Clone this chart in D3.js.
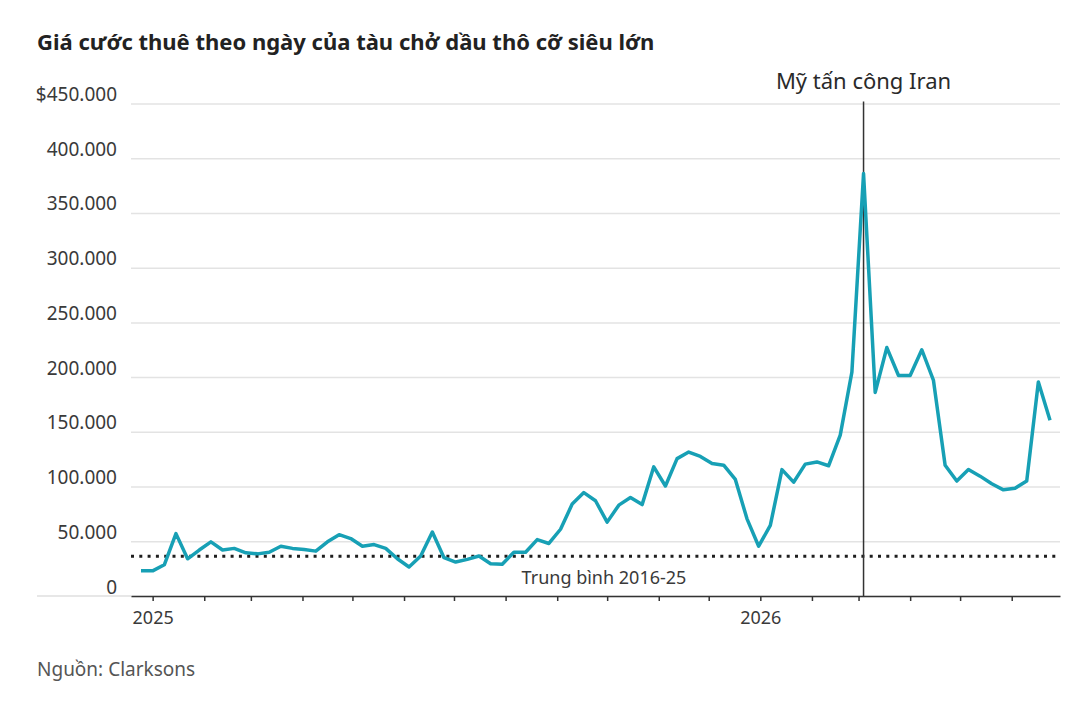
<!DOCTYPE html>
<html>
<head>
<meta charset="utf-8">
<script src="https://cdn.jsdelivr.net/npm/d3@7"></script>
<style>
  body { margin: 0; background: #fff; }
  svg { font-family: "Noto Sans", sans-serif; display: block; }
</style>
</head>
<body>
<div id="chart"></div>
<script>

// weekly dates (one point per week)
var dates = ["2024-12-25",
  "2025-01-01","2025-01-08","2025-01-15","2025-01-22","2025-01-29",
  "2025-02-05","2025-02-12","2025-02-19","2025-02-26",
  "2025-03-05","2025-03-12","2025-03-19","2025-03-26",
  "2025-04-02","2025-04-09","2025-04-16","2025-04-23","2025-04-30",
  "2025-05-07","2025-05-14","2025-05-21","2025-05-28",
  "2025-06-04","2025-06-11","2025-06-18","2025-06-25",
  "2025-07-02","2025-07-09","2025-07-16","2025-07-23","2025-07-30",
  "2025-08-06","2025-08-13","2025-08-20","2025-08-27",
  "2025-09-03","2025-09-10","2025-09-17","2025-09-24",
  "2025-10-01","2025-10-08","2025-10-15","2025-10-22","2025-10-29",
  "2025-11-05","2025-11-12","2025-11-19","2025-11-26",
  "2025-12-03","2025-12-10","2025-12-17","2025-12-24","2025-12-31",
  "2026-01-07","2026-01-14","2026-01-21","2026-01-28",
  "2026-02-04","2026-02-11","2026-02-18","2026-02-25",
  "2026-03-04","2026-03-11","2026-03-18","2026-03-25",
  "2026-04-01","2026-04-08","2026-04-15","2026-04-22","2026-04-29",
  "2026-05-06","2026-05-13","2026-05-20","2026-05-27",
  "2026-06-03","2026-06-10","2026-06-17","2026-06-24"];

// daily rate, USD
var rates = [23000,
  23000, 28500, 57000, 34000, 42000,
  49500, 42000, 43500, 39500,
  38500, 40000, 45500, 43500,
  42500, 41000, 49500, 56000, 52500,
  45500, 47000, 43500, 34000,
  26500, 36500, 58500, 35000,
  31000, 33500, 36500, 29500, 29000,
  40000, 40000, 51500, 48000,
  61000, 84000, 94500, 87000,
  67500, 83000, 90000, 83500, 118000,
  100500, 125500, 131500, 127500,
  121000, 119500, 106500, 70500, 45500,
  64500, 115500, 104000, 120500,
  122500, 119000, 147000, 204500,
  386000, 186000, 227000, 201500,
  201500, 225000, 197000, 119500, 105000,
  115500, 109500, 102500, 97000,
  98500, 105000, 195500, 160500];

var yTicks = [0, 50000, 100000, 150000, 200000, 250000, 300000, 350000, 400000, 450000];
var average = 36300;            // 2016-25 average
var averageLabel = "Trung bình 2016-25";
var eventDate = "2026-03-04";
var eventLabel = "Mỹ tấn công Iran";
var xDomain = ["2024-12-19", "2026-06-30"];

var W = 1074, H = 702;
var plotLeft = 131, plotRight = 1060, plotTop = 103.5, plotBottom = 596;
var font = "'Noto Sans', sans-serif";

var parse = d3.utcParse("%Y-%m-%d");
var data = dates.map(function(d, i) { return { date: parse(d), value: rates[i] }; });

var locale = d3.formatLocale({ decimal: ",", thousands: ".", grouping: [3], currency: ["$", ""] });
var fmt = locale.format(",");

var svg = d3.select("#chart").append("svg")
    .attr("width", W)
    .attr("height", H);

// title
svg.append("text")
    .attr("x", 37)
    .attr("y", 50)
    .attr("font-size", 22)
    .attr("font-weight", "bold")
    .attr("fill", "#222")
    .text("Giá cước thuê theo ngày của tàu chở dầu thô cỡ siêu lớn");

var x = d3.scaleUtc()
    .domain(xDomain.map(parse))
    .range([plotLeft, plotRight]);

var y = d3.scaleLinear()
    .domain([0, 450000])
    .range([plotBottom, plotTop]);

// gridlines + y labels
var yAxis = svg.append("g")
    .attr("transform", "translate(" + plotLeft + ",0)")
    .call(d3.axisLeft(y)
      .tickValues(yTicks)
      .tickSize(-(plotRight - plotLeft))
      .tickPadding(14)
      .tickFormat(function(d) { return d === 450000 ? "$" + fmt(d) : fmt(d); }))
    .attr("font-family", font);
yAxis.select(".domain").remove();
yAxis.selectAll(".tick line")
    .attr("stroke", "#e3e3e3")
    .attr("stroke-width", 1.5);
yAxis.selectAll(".tick text")
    .attr("dy", "-3px")
    .attr("font-size", 19)
    .attr("fill", "#3a3a3a");

// light baseline to the left of the plot
svg.append("line")
    .attr("x1", 37).attr("x2", plotLeft)
    .attr("y1", plotBottom).attr("y2", plotBottom)
    .attr("stroke", "#cfcfcf")
    .attr("stroke-width", 1);

// x axis
var xAxis = svg.append("g")
    .attr("transform", "translate(0," + plotBottom + ")")
    .call(d3.axisBottom(x)
      .ticks(d3.utcMonth.every(1))
      .tickSize(5)
      .tickPadding(10)
      .tickSizeOuter(0)
      .tickFormat(function(d) { return d.getUTCMonth() === 0 ? d.getUTCFullYear() : ""; }))
    .attr("font-family", font);
xAxis.select(".domain")
    .attr("stroke", "#333")
    .attr("stroke-width", 1.5);
xAxis.selectAll(".tick line")
    .attr("stroke", "#333")
    .attr("stroke-width", 1.5);
xAxis.selectAll(".tick text")
    .attr("font-size", 18)
    .attr("fill", "#3a3a3a");

// average line
svg.append("line")
    .attr("x1", plotLeft).attr("x2", plotRight)
    .attr("y1", y(average)).attr("y2", y(average))
    .attr("stroke", "#1e1e1e")
    .attr("stroke-width", 3)
    .attr("stroke-dasharray", "3,5.3");

svg.append("text")
    .attr("x", 604)
    .attr("y", 584)
    .attr("text-anchor", "middle")
    .attr("font-size", 18)
    .attr("fill", "#3a3a3a")
    .text(averageLabel);

// event marker
var ex = x(parse(eventDate));
svg.append("line")
    .attr("x1", ex).attr("x2", ex)
    .attr("y1", 101.5).attr("y2", plotBottom)
    .attr("stroke", "#333")
    .attr("stroke-width", 1.5);

svg.append("text")
    .attr("x", ex)
    .attr("y", 89)
    .attr("text-anchor", "middle")
    .attr("font-size", 22)
    .attr("fill", "#2a2a2a")
    .text(eventLabel);

// rate line
svg.append("path")
    .datum(data)
    .attr("fill", "none")
    .attr("stroke", "#17a0b5")
    .attr("stroke-width", 3.5)
    .attr("stroke-linejoin", "round")
    .attr("d", d3.line()
      .x(function(d) { return x(d.date); })
      .y(function(d) { return y(d.value); }));

// source
svg.append("text")
    .attr("x", 37)
    .attr("y", 676)
    .attr("font-size", 19)
    .attr("fill", "#555")
    .text("Nguồn: Clarksons");

</script>
</body>
</html>
